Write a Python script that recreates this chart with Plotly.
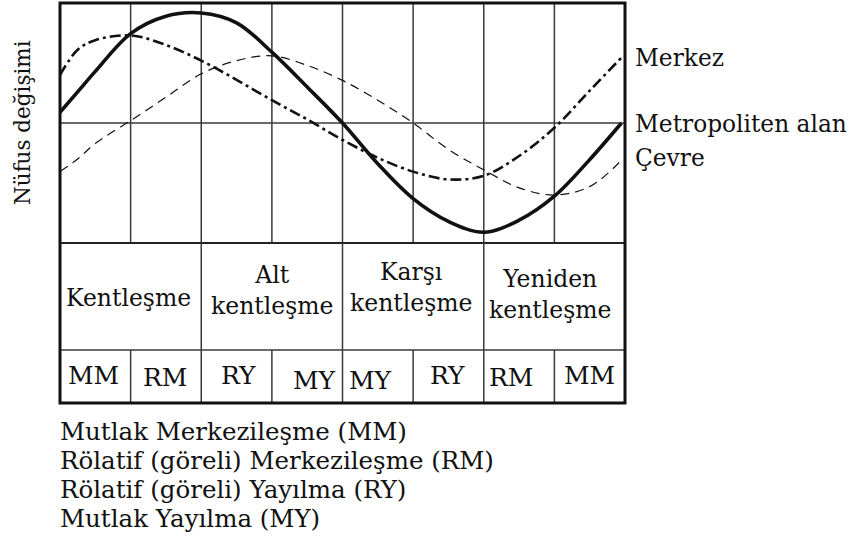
import plotly.graph_objects as go

# ---- data ----
x_pts = [0, 0.25, 0.5, 1, 1.5, 2, 2.5, 3, 3.5, 4, 4.5, 5, 5.5, 6, 6.5, 7, 7.5, 7.95]
metro = [0.09, 0.26, 0.43, 0.745, 0.89, 0.917, 0.835, 0.59, 0.30, 0.0, -0.34, -0.63, -0.82, -0.91, -0.81, -0.61, -0.305, 0.0]
merkez = [0.40, 0.61, 0.69, 0.73, 0.65, 0.52, 0.36, 0.19, 0.03, -0.14, -0.29, -0.405, -0.47, -0.44, -0.275, -0.04, 0.27, 0.545]
cevre = [-0.405, -0.30, -0.17, 0.02, 0.215, 0.41, 0.52, 0.56, 0.48, 0.355, 0.19, 0.0, -0.22, -0.39, -0.54, -0.60, -0.53, -0.31]

series_names = ["Merkez", "Metropoliten alan", "Çevre"]

stages = ["Kentleşme", "Alt<br>kentleşme", "Karşı<br>kentleşme", "Yeniden<br>kentleşme"]

phases = ["MM", "RM", "RY", "MY", "MY", "RY", "RM", "MM"]

legend_lines = [
    "Mutlak Merkezileşme (MM)",
    "Rölatif (göreli) Merkezileşme (RM)",
    "Rölatif (göreli) Yayılma (RY)",
    "Mutlak Yayılma (MY)",
]

y_title = "Nüfus değişimi"

# ---- layout constants ----
FONT = "DejaVu Serif"
INK = "#111111"
GRID = "#3a3a3a"
Y_TOP = 1.0
Y_CURVE_BOTTOM = -1.0
Y_ROW1_BOTTOM = -1.892
Y_BOTTOM = -2.333
n_cols = len(phases)
PLOT_L, PLOT_R, PLOT_T, PLOT_B = 60, 625, 3, 403

fig = go.Figure()

fig.add_trace(go.Scatter(x=x_pts, y=cevre, mode="lines", name=series_names[2],
                         line=dict(color=INK, width=1.2, dash="9px,6px", shape="spline", smoothing=1.0)))
fig.add_trace(go.Scatter(x=x_pts, y=merkez, mode="lines", name=series_names[0],
                         line=dict(color=INK, width=2.6, dash="11px,4px,3px,4px", shape="spline", smoothing=1.0)))
fig.add_trace(go.Scatter(x=x_pts, y=metro, mode="lines", name=series_names[1],
                         line=dict(color=INK, width=3.6, shape="spline", smoothing=1.0)))

shapes = []
for i in range(1, n_cols):
    shapes.append(dict(type="line", xref="x", yref="y", x0=i, x1=i, y0=Y_CURVE_BOTTOM, y1=Y_TOP,
                       line=dict(color=GRID, width=1.5), layer="below"))
shapes.append(dict(type="line", xref="x", yref="y", x0=0, x1=n_cols, y0=0, y1=0,
                   line=dict(color=GRID, width=1.5), layer="below"))
shapes.append(dict(type="line", xref="x", yref="y", x0=0, x1=n_cols, y0=Y_CURVE_BOTTOM, y1=Y_CURVE_BOTTOM,
                   line=dict(color="#222222", width=2)))
shapes.append(dict(type="line", xref="x", yref="y", x0=0, x1=n_cols, y0=Y_ROW1_BOTTOM, y1=Y_ROW1_BOTTOM,
                   line=dict(color=GRID, width=1.5)))
span = n_cols // len(stages)
for j in range(1, len(stages)):
    shapes.append(dict(type="line", xref="x", yref="y", x0=j * span, x1=j * span,
                       y0=Y_ROW1_BOTTOM, y1=Y_CURVE_BOTTOM, line=dict(color=GRID, width=1.5)))
for i in range(1, n_cols):
    shapes.append(dict(type="line", xref="x", yref="y", x0=i, x1=i, y0=Y_BOTTOM, y1=Y_ROW1_BOTTOM,
                       line=dict(color=GRID, width=1.5)))
shapes.append(dict(type="rect", xref="paper", yref="paper", x0=0, x1=1, y0=0, y1=1,
                   line=dict(color=INK, width=3)))

annotations = []
label_shift = [0, 0, 3]
ends = [merkez[-1], metro[-1], cevre[-1]]
for name, yv, ys in zip(series_names, ends, label_shift):
    annotations.append(dict(x=n_cols, y=yv, xref="x", yref="y", text=name, showarrow=False,
                            xanchor="left", yanchor="middle", xshift=8, yshift=ys,
                            font=dict(family=FONT, size=23.3, color=INK)))

# stage labels (row 1), vertical centres in axis units
stage_y = [-1.458, -1.396, -1.367, -1.429]
stage_dx = [-2, 0, -2, -4]
for j, s in enumerate(stages):
    cx = j * span + span / 2
    annotations.append(dict(x=cx, y=stage_y[j], xref="x", yref="y", text=s, showarrow=False,
                            xanchor="center", yanchor="middle", xshift=stage_dx[j], align="center",
                            font=dict(family=FONT, size=23.5, color=INK)))

ph_dx = [-2, -1, 2, 7, -7, -1, -8, 0]
ph_dy = [0, -2, 0, -5, -5, 0, -2, 0]
for i, p in enumerate(phases):
    annotations.append(dict(x=i + 0.5, y=-2.104, xref="x", yref="y", text=p, showarrow=False,
                            xanchor="center", yanchor="middle", xshift=ph_dx[i], yshift=ph_dy[i],
                            font=dict(family=FONT, size=25, color=INK)))

# abbreviation legend below the box (paper coords are relative to the plot area)
leg_y = [431, 460, 489, 518]
for txt, py in zip(legend_lines, leg_y):
    annotations.append(dict(x=(58 - PLOT_L) / (PLOT_R - PLOT_L), y=(PLOT_B - py) / (PLOT_B - PLOT_T),
                            xref="paper", yref="paper", text=txt,
                            showarrow=False, xanchor="left", yanchor="middle",
                            font=dict(family=FONT, size=24.5, color=INK)))

annotations.append(dict(x=0, y=0.0, xref="paper", yref="y", text=y_title, showarrow=False,
                        textangle=-90, xanchor="center", yanchor="middle", xshift=-38,
                        font=dict(family=FONT, size=21.5, color=INK)))

fig.update_layout(
    width=856, height=538, autosize=False,
    margin=dict(l=PLOT_L, r=856 - PLOT_R, t=PLOT_T, b=538 - PLOT_B, pad=0),
    paper_bgcolor="white", plot_bgcolor="white",
    showlegend=False,
    shapes=shapes, annotations=annotations,
    xaxis=dict(range=[0, n_cols], showgrid=False, zeroline=False, showticklabels=False,
               ticks="", showline=False, fixedrange=True),
    yaxis=dict(range=[Y_BOTTOM, Y_TOP], showgrid=False, zeroline=False, showticklabels=False,
               ticks="", showline=False, fixedrange=True),
)

fig.write_html("out.html", config={"displayModeBar": False},
               post_script="document.body.style.margin='0';document.body.style.overflow='hidden';")
